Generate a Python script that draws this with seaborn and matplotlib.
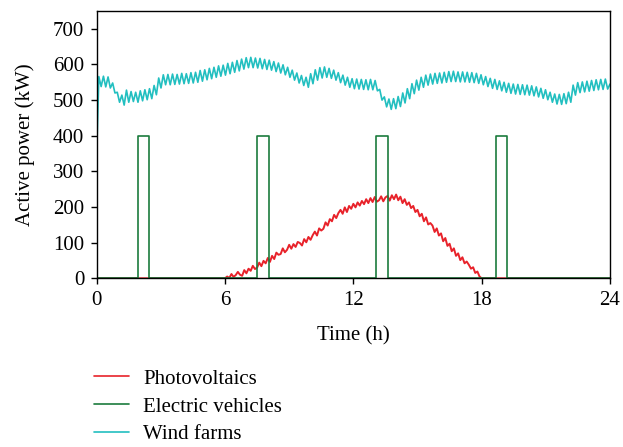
import numpy as np
import pandas as pd
import matplotlib
matplotlib.use("Agg")
import matplotlib.pyplot as plt
import seaborn as sns

# ---------------- data ----------------
series_names = ["Photovoltaics", "Electric vehicles", "Wind farms"]
series_colors = ["#e8222a", "#1b7b3d", "#22bfc0"]

x_ticks = [0, 6, 12, 18, 24]
y_ticks = [0, 100, 200, 300, 400, 500, 600, 700]

# Photovoltaics: sampled every 0.1 h from 6.0 h to 18.0 h (zero outside)
pv_first_hour = 6.0
pv_last_hour = 18.0
pv_values = [
    0, 5, 1, 12, 4, 9, 18, 10, 7, 23,
    14, 27, 21, 35, 26, 30, 44, 34, 49, 42,
    57, 46, 63, 54, 72, 66, 68, 84, 73, 80,
    94, 83, 96, 88, 102, 99, 92, 110, 101, 116,
    108, 121, 131, 120, 140, 134, 139, 157, 148, 166,
    160, 178, 169, 183, 192, 181, 199, 186, 203, 195,
    209, 199, 213, 204, 217, 208, 222, 211, 225, 214,
    228, 215, 219, 230, 216, 227, 231, 218, 233, 222,
    235, 219, 229, 211, 222, 206, 213, 197, 203, 186,
    192, 174, 181, 160, 171, 151, 155, 148, 130, 140,
    120, 126, 104, 113, 91, 97, 76, 84, 63, 70,
    51, 59, 42, 47, 38, 27, 31, 15, 19, 5,
    0,
]

# Electric vehicles: charging pulses (h) and power (kW)
ev_on = [1.95, 7.5, 13.05, 18.65]
ev_off = [2.45, 8.05, 13.6, 19.2]
ev_power = 400

# Wind farms: start value, then alternating peaks / troughs, end value
wind_start = 350
wind_end = 545
wind_first_peak_hour = 0.1
wind_period = 0.2153
wind_peaks = [
    566, 567, 565, 548, 522, 514, 528, 524, 522, 526,
    529, 532, 541, 562, 571, 572, 573, 572, 575, 574,
    577, 578, 583, 585, 589, 592, 596, 598, 603, 606,
    611, 615, 619, 620, 618, 617, 614, 612, 608, 604,
    599, 592, 584, 576, 569, 564, 574, 585, 591, 593,
    589, 584, 577, 570, 564, 560, 559, 558, 557, 558,
    555, 530, 509, 503, 504, 510, 520, 532, 546, 556,
    564, 570, 573, 575, 576, 578, 580, 581, 579, 579,
    578, 577, 575, 571, 566, 561, 558, 554, 550, 547,
    545, 544, 543, 542, 540, 537, 533, 529, 522, 517,
    516, 518, 522, 542, 549, 551, 553, 555, 557, 558, 559,
]
wind_troughs = [
    538, 537, 534, 520, 494, 486, 494, 496, 494, 498,
    501, 504, 515, 534, 543, 543, 544, 545, 546, 547,
    548, 550, 553, 557, 560, 564, 567, 570, 574, 578,
    582, 587, 591, 591, 590, 588, 586, 584, 580, 576,
    571, 564, 556, 548, 541, 536, 546, 556, 562, 564,
    561, 556, 549, 542, 536, 532, 531, 530, 529, 529,
    526, 500, 481, 474, 476, 482, 492, 504, 518, 528,
    536, 542, 545, 547, 548, 550, 552, 552, 551, 551,
    550, 549, 547, 543, 538, 533, 530, 526, 522, 519,
    517, 516, 515, 514, 512, 509, 505, 501, 494, 489,
    488, 490, 494, 514, 521, 523, 525, 527, 529, 530, 531,
]

# ---------------- build long-form table ----------------
pv_t = np.linspace(pv_first_hour, pv_last_hour, len(pv_values))
pv_time = np.concatenate([[0.0], pv_t, [24.0]])
pv_pow = np.concatenate([[0.0], pv_values, [0.0]])

ev_time = [0.0]
ev_pow = [0.0]
for on, off in zip(ev_on, ev_off):
    ev_time += [on, on, off, off]
    ev_pow += [0, ev_power, ev_power, 0]
ev_time.append(24.0)
ev_pow.append(0.0)

n = len(wind_peaks)
peak_t = wind_first_peak_hour + wind_period * np.arange(n)
trough_t = peak_t + wind_period / 2
wind_time = [0.0]
wind_pow = [wind_start]
for pt, pk, tt, tv in zip(peak_t, wind_peaks, trough_t, wind_troughs):
    wind_time += [pt, tt]
    wind_pow += [pk, tv]
wind_time.append(24.0)
wind_pow.append(wind_end)

df = pd.concat([
    pd.DataFrame({"Time": pv_time, "Power": pv_pow, "Source": series_names[0]}),
    pd.DataFrame({"Time": ev_time, "Power": ev_pow, "Source": series_names[1]}),
    pd.DataFrame({"Time": wind_time, "Power": wind_pow, "Source": series_names[2]}),
], ignore_index=True)

# ---------------- plot ----------------
sns.set_theme(style="white")
plt.rcParams["font.family"] = ["Liberation Serif", "DejaVu Serif"]
plt.rcParams["text.color"] = "black"
plt.rcParams["axes.labelcolor"] = "black"

fig = plt.figure(figsize=(6.23, 4.47), dpi=100)
ax = fig.add_axes([96.7 / 623, 1 - 278.3 / 447, (610 - 96.7) / 623, (278.3 - 11) / 447])

sns.lineplot(data=df, x="Time", y="Power", hue="Source", hue_order=series_names,
             palette=series_colors, estimator=None, sort=False, linewidth=1.2, ax=ax)
ax.lines[0].set_linewidth(1.4)

ax.set_xlim(0, 24)
ax.set_ylim(0, 750)
ax.set_xticks(x_ticks)
ax.set_yticks(y_ticks)
ax.set_xlabel("Time (h)", fontsize=15, labelpad=12, color="black")
ax.set_ylabel("Active power (kW)", fontsize=15, labelpad=13, color="black")
ax.tick_params(axis="both", which="major", labelsize=15, direction="out",
               length=4, width=1, colors="black", pad=5,
               bottom=True, left=True, top=False, right=False)
for s in ax.spines.values():
    s.set_color("black")
    s.set_linewidth(1.0)
    s.set_visible(True)

handles, labels = ax.get_legend_handles_labels()
ax.get_legend().remove()
leg = fig.legend(handles, labels, loc="upper left",
                 bbox_to_anchor=(94 / 623, 1 - 369 / 447),
                 frameon=False, fontsize=15, handlelength=1.7, handletextpad=0.65,
                 labelspacing=0.4, borderpad=0, borderaxespad=0)
for t in leg.get_texts():
    t.set_color("black")

fig.savefig("out.png", dpi=100, facecolor="white")
